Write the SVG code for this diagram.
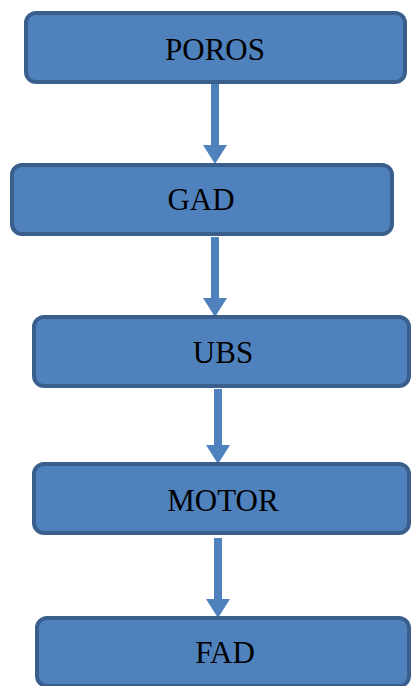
<svg xmlns="http://www.w3.org/2000/svg" width="411" height="686" viewBox="0 0 411 686">
<style>
.box{fill:#4F81BD;stroke:#3A5F8C;stroke-width:4}
.lbl{font-family:"Liberation Serif","Times New Roman",serif;font-size:31px;fill:#000;text-anchor:middle}
.conn{stroke:#4F81BD;stroke-width:8;fill:none}
</style>
<defs>
<marker id="ah" markerUnits="userSpaceOnUse" viewBox="0 0 19 24" refX="0" refY="12" markerWidth="19" markerHeight="24" orient="auto">
<path d="M0,0 L19,12 L0,24 Z" fill="#4F81BD"/>
</marker>
</defs>
<g id="connectors">
<line class="conn" x1="215" y1="84" x2="215" y2="145" marker-end="url(#ah)"/>
<line class="conn" x1="215" y1="237" x2="215" y2="298" marker-end="url(#ah)"/>
<line class="conn" x1="218" y1="389" x2="218" y2="445" marker-end="url(#ah)"/>
<line class="conn" x1="218" y1="538" x2="218" y2="599" marker-end="url(#ah)"/>
</g>
<g id="poros">
<rect class="box" x="26" y="13" width="379" height="69" rx="10"/>
<text class="lbl" x="215" y="60">POROS</text>
</g>
<g id="gad">
<rect class="box" x="12" y="165" width="380" height="69" rx="10"/>
<text class="lbl" x="201" y="210">GAD</text>
</g>
<g id="ubs">
<rect class="box" x="34" y="317" width="375" height="69" rx="10"/>
<text class="lbl" x="223" y="363">UBS</text>
</g>
<g id="motor">
<rect class="box" x="34" y="464" width="375" height="69" rx="10"/>
<text class="lbl" x="223" y="511">MOTOR</text>
</g>
<g id="fad">
<rect class="box" x="37" y="618" width="372" height="68" rx="10"/>
<text class="lbl" x="225" y="663">FAD</text>
</g>
</svg>
